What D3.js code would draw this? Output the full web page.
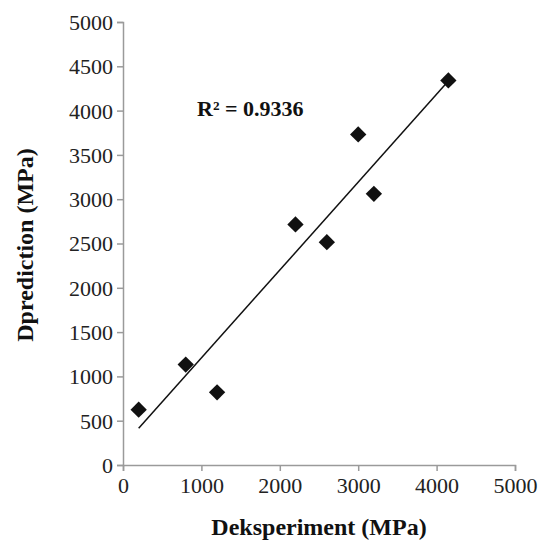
<!DOCTYPE html>
<html>
<head>
<meta charset="utf-8">
<script src="https://cdn.jsdelivr.net/npm/d3@7"></script>
<style>
  body { margin: 0; background: #fff; }
  #chart text { font-family: 'Liberation Serif', 'Times New Roman', Times, serif !important; }
</style>
</head>
<body>
<div id="chart"></div>
<script>
var experiment = [200, 800, 1200, 2200, 2600, 3000, 3200, 4150];
var prediction = [625, 1133, 820, 2715, 2515, 3731, 3061, 4341];
var xTicks = [0, 1000, 2000, 3000, 4000, 5000];
var yTicks = [0, 500, 1000, 1500, 2000, 2500, 3000, 3500, 4000, 4500, 5000];
var r2Label = "R² = 0.9336";

var width = 541, height = 541;
var margin = {left: 123, right: 26, top: 22, bottom: 76};

var svg = d3.select('#chart')
    .append('svg')
    .attr('width', width)
    .attr('height', height)
    .attr('font-family', 'Liberation Serif');

var x = d3.scaleLinear().domain([0, 5000]).range([margin.left, width - margin.right]);
var y = d3.scaleLinear().domain([0, 5000]).range([height - margin.bottom, margin.top]);

var axisColor = '#9a9a9a';

var xAxis = svg.append('g')
    .attr('transform', 'translate(0,' + y(0) + ')')
    .call(d3.axisBottom(x).tickValues(xTicks).tickSize(6).tickPadding(4).tickFormat(d3.format('d')));

var yAxis = svg.append('g')
    .attr('transform', 'translate(' + x(0) + ',0)')
    .call(d3.axisLeft(y).tickValues(yTicks).tickSize(6).tickPadding(4).tickFormat(d3.format('d')));

[xAxis, yAxis].forEach(function (g) {
    g.attr('font-family', 'Liberation Serif').attr('font-size', 22);
    g.select('.domain').attr('stroke', axisColor).attr('stroke-width', 1.5);
    g.selectAll('.tick line').attr('stroke', axisColor).attr('stroke-width', 1.5);
    g.selectAll('.tick text').attr('fill', '#222');
});
xAxis.selectAll('.tick text').attr('dy', '0.8em');
yAxis.selectAll('.tick text').attr('dy', '0.34em');

// linear trend line (least squares)
var n = experiment.length;
var mx = d3.mean(experiment), my = d3.mean(prediction);
var sxy = 0, sxx = 0;
for (var i = 0; i < n; i++) {
    sxy += (experiment[i] - mx) * (prediction[i] - my);
    sxx += (experiment[i] - mx) * (experiment[i] - mx);
}
var slope = sxy / sxx;
var intercept = my - slope * mx;
var x0 = d3.min(experiment), x1 = d3.max(experiment);

svg.append('line')
    .attr('x1', x(x0))
    .attr('y1', y(slope * x0 + intercept))
    .attr('x2', x(x1))
    .attr('y2', y(slope * x1 + intercept))
    .attr('stroke', '#111')
    .attr('stroke-width', 1.5);

var diamond = d3.symbol().type(d3.symbolDiamond2).size(170);

svg.selectAll('.pt')
    .data(experiment)
    .enter()
    .append('path')
    .attr('class', 'pt')
    .attr('d', diamond)
    .attr('transform', function (d, i) { return 'translate(' + x(d) + ',' + y(prediction[i]) + ')'; })
    .attr('fill', '#111');

svg.append('text')
    .text(r2Label)
    .attr('x', 197)
    .attr('y', 116)
    .attr('font-weight', 'bold')
    .attr('font-size', 22)
    .attr('fill', '#111');

svg.append('text')
    .text('Deksperiment (MPa)')
    .attr('x', (x(0) + x(5000)) / 2)
    .attr('y', 535)
    .attr('text-anchor', 'middle')
    .attr('font-weight', 'bold')
    .attr('font-size', 24)
    .attr('fill', '#111');

svg.append('text')
    .text('Dprediction (MPa)')
    .attr('transform', 'translate(33,245) rotate(-90)')
    .attr('text-anchor', 'middle')
    .attr('font-weight', 'bold')
    .attr('font-size', 24)
    .attr('fill', '#111');
</script>
</body>
</html>
